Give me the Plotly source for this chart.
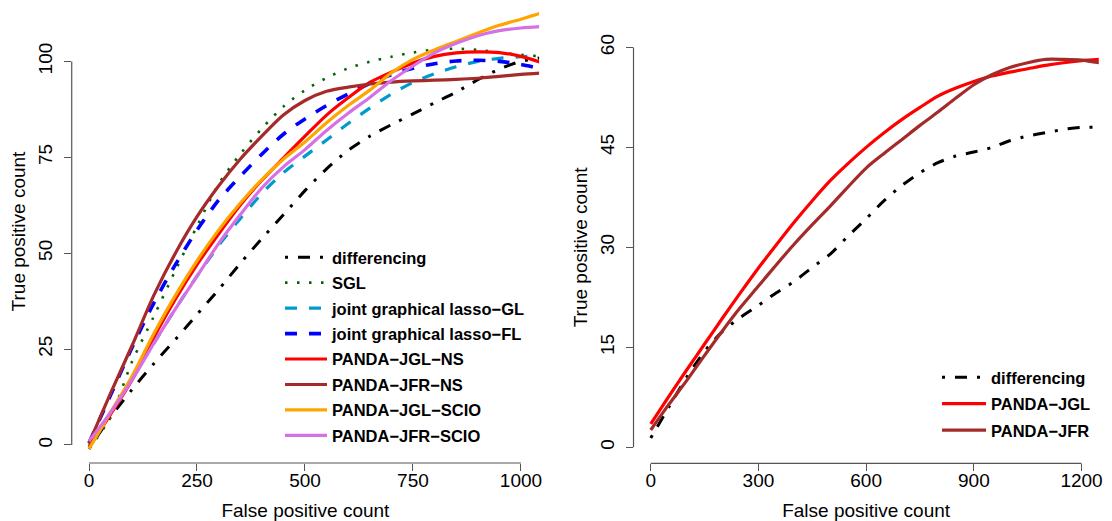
import plotly.graph_objects as go

# ---------------- data ----------------
fp_left = [0, 50, 100, 150, 200, 250, 300, 350, 400, 450, 500, 550,
           600, 650, 700, 750, 800, 850, 900, 950, 1000, 1050]

tp_differencing = [-1, 7.3, 14.5, 21.2, 27.5, 34, 40.5, 47.3, 53.8, 60, 66.3, 72,
                   76.8, 80.5, 83.5, 86.3, 89.2, 92, 95.2, 98, 100, 101]
tp_sgl = [-1, 7.3, 21.8, 33.5, 45.5, 57, 68, 75.8, 82.5, 88.2, 92.5, 95.7,
          98.2, 99.9, 101.2, 102.3, 103.1, 103.3, 103, 102.3, 101.7, 101.3]
tp_jgl_gl = [0, 8.5, 17.5, 26.5, 35.5, 44, 52, 59, 65.5, 71, 75.3, 79.5,
             83.8, 87.8, 91.5, 94.5, 96.8, 98.6, 100, 100.8, 101.2, 101.5]
tp_jgl_fl = [0.5, 13, 25.5, 37, 47, 56, 63.8, 70, 75.8, 81, 85, 88.5,
             91.5, 94.2, 96.5, 98.2, 99.4, 100.1, 100.3, 100, 99.2, 98]
tp_panda_jgl_ns = [-0.5, 8, 17, 28, 38, 47, 55, 62.5, 69, 74.8, 80.5, 86,
                   90.5, 94.5, 97.2, 99.6, 101.3, 102.2, 102.5, 102.3, 101.3, 99.6]
tp_panda_jfr_ns = [0.5, 13.5, 26, 39, 50, 59.5, 67.5, 74.5, 80.5, 86, 89.8, 92.2,
                   93.3, 94.1, 94.6, 94.9, 95.1, 95.3, 95.6, 96.1, 96.6, 97]
tp_panda_jgl_scio = [-1, 8.5, 18, 29, 39, 48, 56, 63, 69.2, 74.5, 79, 84,
                     88.5, 92.5, 97, 100.5, 103, 105.2, 107.4, 109.4, 111, 112.7]
tp_panda_jfr_scio = [1, 8.5, 17, 26.5, 35.5, 44, 52.5, 60, 67, 72.5, 77, 82,
                     86.5, 90.6, 95, 98.8, 102.2, 104.7, 106.7, 108, 108.7, 109.1]

fp_right = [0, 50, 100, 150, 200, 250, 300, 350, 400, 450, 500, 550, 600,
            650, 700, 750, 800, 850, 900, 950, 1000, 1050, 1100, 1150, 1200, 1250]
tp_right_differencing = [1.4, 6, 10.5, 14.4, 17.4, 19.5, 21.3, 23.2, 24.9, 27, 29, 31.7, 34.3,
                         37, 39.3, 41.2, 42.7, 43.7, 44.3, 45, 46, 46.7, 47.2, 47.7, 48, 48]
tp_right_panda_jgl = [3.5, 7.6, 11.6, 15.5, 19.4, 23.2, 26.9, 30.4, 33.8, 37, 40, 42.6, 45,
                      47.2, 49.2, 51, 52.7, 53.9, 54.9, 55.7, 56.3, 56.8, 57.3, 57.7, 58, 58.2]
tp_right_panda_jfr = [2.6, 6.4, 10, 13.8, 17.5, 21, 24.2, 27.4, 30.5, 33.4, 36.2, 39.1, 41.9,
                      44.1, 46.2, 48.3, 50.3, 52.4, 54.4, 55.9, 57, 57.7, 58.2, 58.2, 58.1, 57.7]

left_x_ticks = [0, 250, 500, 750, 1000]
left_y_ticks = [0, 25, 50, 75, 100]
right_x_ticks = [0, 300, 600, 900, 1200]
right_y_ticks = [0, 15, 30, 45, 60]

x_title = "False positive count"
y_title = "True positive count"

# ---------------- styles ----------------
FONT = "Liberation Sans, Arial, sans-serif"
AXC = "#555555"
DOTDASH = "3px,10px,12px,10px"
DOTTED = "2.5px,9.5px"
DASHED = "12px,12px"

left_series = [
    ("differencing", tp_differencing, "black", DOTDASH, 3),
    ("SGL", tp_sgl, "#006400", DOTTED, 2.6),
    ("joint graphical lasso\u2212GL", tp_jgl_gl, "#009ACD", DASHED, 3.2),
    ("joint graphical lasso\u2212FL", tp_jgl_fl, "#0000FF", DASHED, 3.6),
    ("PANDA\u2212JGL\u2212NS", tp_panda_jgl_ns, "#FF0000", "solid", 3.2),
    ("PANDA\u2212JFR\u2212NS", tp_panda_jfr_ns, "#A52A2A", "solid", 3.2),
    ("PANDA\u2212JGL\u2212SCIO", tp_panda_jgl_scio, "#FFA500", "solid", 3.2),
    ("PANDA\u2212JFR\u2212SCIO", tp_panda_jfr_scio, "#D670E6", "solid", 3.2),
]
right_series = [
    ("differencing", tp_right_differencing, "black", DOTDASH, 3),
    ("PANDA\u2212JGL", tp_right_panda_jgl, "#FF0000", "solid", 3.2),
    ("PANDA\u2212JFR", tp_right_panda_jfr, "#A52A2A", "solid", 3.2),
]

fig = go.Figure()
for i, (name, ys, col, dash, w) in enumerate(left_series):
    fig.add_trace(go.Scatter(
        x=fp_left, y=ys, mode="lines", name=name,
        line=dict(color=col, dash=dash, width=w, shape="spline", smoothing=0.8),
        xaxis="x", yaxis="y", legend="legend", legendgroup=f"l{i}"))
for i, (name, ys, col, dash, w) in enumerate(right_series):
    fig.add_trace(go.Scatter(
        x=fp_right, y=ys, mode="lines", name=name,
        line=dict(color=col, dash=dash, width=w, shape="spline", smoothing=0.8),
        xaxis="x2", yaxis="y2", legend="legend2", legendgroup=f"r{i}"))

L_XD = [0.0645, 0.4848]
L_YD = [0.1113, 1.0]
R_XD = [0.5697, 0.9881]
R_YD = [0.1107, 0.9397]

tickfont = dict(family=FONT, size=19, color="black")
common_x = dict(showgrid=False, zeroline=False, showline=False, ticks="outside",
                ticklen=7, tickwidth=1, tickcolor=AXC, tickfont=tickfont,
                ticklabelstandoff=-7, automargin=False)
common_y = dict(showgrid=False, zeroline=False, showline=False, ticks="outside",
                ticklen=7, tickwidth=1, tickcolor=AXC, tickfont=tickfont,
                tickangle=-90, ticklabelstandoff=4, automargin=False)

legend_font = dict(family=FONT, size=16.5, color="black", weight="bold")

fig.update_layout(
    width=1112, height=521,
    margin=dict(l=0, r=0, t=0, b=0, autoexpand=False),
    paper_bgcolor="white", plot_bgcolor="white",
    font=dict(family=FONT, color="black"),
    xaxis=dict(domain=L_XD, range=[-40, 1042], tickvals=left_x_ticks, anchor="y",
               title=dict(text=x_title, font=dict(family=FONT, size=19), standoff=13),
               **common_x),
    yaxis=dict(domain=L_YD, range=[-4.7, 116], tickvals=left_y_ticks, anchor="x",
               title=dict(text=y_title, font=dict(family=FONT, size=19), standoff=4),
               **common_y),
    xaxis2=dict(domain=R_XD, range=[-48, 1248], tickvals=right_x_ticks, anchor="y2",
                title=dict(text=x_title, font=dict(family=FONT, size=19), standoff=13),
                **common_x),
    yaxis2=dict(domain=R_YD, range=[-2.4, 62.4], tickvals=right_y_ticks, anchor="x2",
                title=dict(text=y_title, font=dict(family=FONT, size=19), standoff=4),
                **common_y),
    legend=dict(x=280 / 1112, y=1 - 240 / 521, xanchor="left", yanchor="top",
                bgcolor="rgba(0,0,0,0)", font=legend_font, tracegroupgap=1,
                itemwidth=42),
    legend2=dict(x=937 / 1112, y=1 - 360 / 521, xanchor="left", yanchor="top",
                 bgcolor="rgba(0,0,0,0)", font=legend_font, tracegroupgap=2,
                 itemwidth=44),
    showlegend=True,
)

# R-style axis lines spanning only first to last tick
shapes = [
    dict(type="line", xref="x", yref="paper", x0=left_x_ticks[0], x1=left_x_ticks[-1],
         y0=L_YD[0], y1=L_YD[0], line=dict(color=AXC, width=1.2)),
    dict(type="line", xref="paper", yref="y", x0=L_XD[0], x1=L_XD[0],
         y0=left_y_ticks[0], y1=left_y_ticks[-1], line=dict(color=AXC, width=1.2)),
    dict(type="line", xref="x2", yref="paper", x0=right_x_ticks[0], x1=right_x_ticks[-1],
         y0=R_YD[0], y1=R_YD[0], line=dict(color=AXC, width=1.2)),
    dict(type="line", xref="paper", yref="y2", x0=R_XD[0], x1=R_XD[0],
         y0=right_y_ticks[0], y1=right_y_ticks[-1], line=dict(color=AXC, width=1.2)),
]
fig.update_layout(shapes=shapes)

fig.write_html("out.html", config={"displayModeBar": False},
               post_script="document.body.style.margin='0';")
